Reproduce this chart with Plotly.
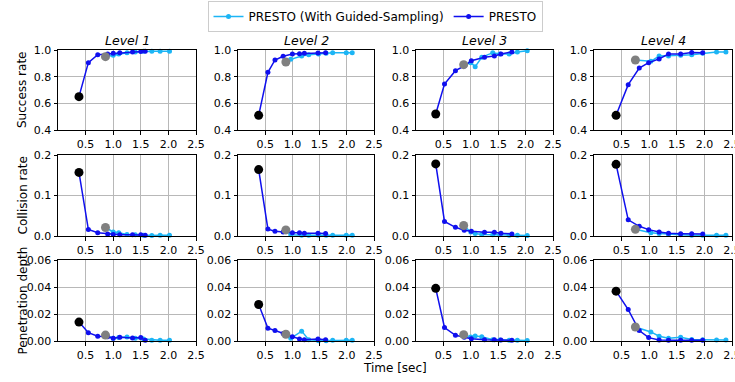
import plotly.graph_objects as go

levels = ["Level 1", "Level 2", "Level 3", "Level 4"]
metrics = ["Success rate", "Collision rate", "Penetration depth"]
x_ticks = [0.5, 1.0, 1.5, 2.0, 2.5]
y_ticks = [[0.4, 0.6, 0.8, 1.0], [0.0, 0.1, 0.2], [0.00, 0.02, 0.04, 0.06]]
y_ranges = [[0.4, 1.0], [0.0, 0.2], [0.0, 0.06]]

# PRESTO (blue)
t_presto_L1 = [0.38, 0.55, 0.72, 0.90, 1.00, 1.12, 1.35, 1.50, 1.58]
succ_presto_L1 = [0.65, 0.905, 0.965, 0.97, 0.975, 0.98, 0.985, 0.988, 0.99]
coll_presto_L1 = [0.157, 0.016, 0.008, 0.005, 0.004, 0.003, 0.003, 0.003, 0.002]
pen_presto_L1 = [0.014, 0.0062, 0.0036, 0.0032, 0.002, 0.0027, 0.0022, 0.0025, 0.0005]

t_presto_L2 = [0.38, 0.55, 0.68, 0.83, 1.00, 1.13, 1.22, 1.47, 1.61]
succ_presto_L2 = [0.51, 0.833, 0.925, 0.953, 0.97, 0.972, 0.975, 0.978, 0.98]
coll_presto_L2 = [0.164, 0.017, 0.012, 0.010, 0.008, 0.008, 0.007, 0.007, 0.006]
pen_presto_L2 = [0.027, 0.0095, 0.0078, 0.0055, 0.0032, 0.0015, 0.001, 0.0015, 0.001]

t_presto_L3 = [0.36, 0.52, 0.72, 0.88, 1.01, 1.25, 1.43, 1.55, 1.75]
succ_presto_L3 = [0.52, 0.745, 0.845, 0.88, 0.92, 0.945, 0.955, 0.97, 0.985]
coll_presto_L3 = [0.178, 0.036, 0.0215, 0.014, 0.0115, 0.009, 0.009, 0.0066, 0.005]
pen_presto_L3 = [0.039, 0.010, 0.0042, 0.0027, 0.0017, 0.001, 0.001, 0.0008, 0.0006]

t_presto_L4 = [0.40, 0.62, 0.82, 0.99, 1.18, 1.35, 1.57, 1.77, 1.97]
succ_presto_L4 = [0.51, 0.74, 0.865, 0.905, 0.933, 0.97, 0.97, 0.982, 0.98]
coll_presto_L4 = [0.177, 0.040, 0.024, 0.0157, 0.010, 0.0066, 0.0058, 0.0055, 0.005]
pen_presto_L4 = [0.0369, 0.0233, 0.0077, 0.0025, 0.0008, 0.0005, 0.0005, 0.0005, 0.0005]

# PRESTO (With Guided-Sampling) (cyan)
t_guided_L1 = [0.86, 1.00, 1.10, 1.25, 1.40, 1.55, 1.70, 1.85, 2.02]
succ_guided_L1 = [0.95, 0.96, 0.97, 0.98, 0.985, 0.99, 0.99, 0.99, 0.99]
coll_guided_L1 = [0.021, 0.010, 0.008, 0.004, 0.003, 0.002, 0.001, 0.002, 0.002]
pen_guided_L1 = [0.0044, 0.002, 0.0025, 0.003, 0.002, 0.0015, 0.0005, 0.0005, 0.0005]

t_guided_L2 = [0.88, 0.97, 1.17, 1.30, 1.48, 1.62, 1.74, 1.99, 2.10]
succ_guided_L2 = [0.91, 0.93, 0.955, 0.965, 0.97, 0.975, 0.98, 0.98, 0.98]
coll_guided_L2 = [0.015, 0.003, 0.002, 0.002, 0.002, 0.002, 0.002, 0.002, 0.002]
pen_guided_L2 = [0.005, 0.002, 0.0073, 0.001, 0.0002, 0.0002, 0.0005, 0.0005, 0.0005]

t_guided_L3 = [0.87, 1.00, 1.08, 1.20, 1.40, 1.53, 1.70, 1.85, 2.03]
succ_guided_L3 = [0.89, 0.905, 0.875, 0.945, 0.98, 0.97, 0.97, 0.985, 0.995]
coll_guided_L3 = [0.026, 0.010, 0.006, 0.004, 0.003, 0.003, 0.002, 0.002, 0.001]
pen_guided_L3 = [0.0047, 0.003, 0.0037, 0.0032, 0.001, 0.0008, 0.0005, 0.0005, 0.0003]

t_guided_L4 = [0.75, 1.03, 1.18, 1.35, 1.57, 1.77, 1.97, 2.22, 2.39]
succ_guided_L4 = [0.925, 0.915, 0.955, 0.955, 0.96, 0.965, 0.975, 0.985, 0.985]
coll_guided_L4 = [0.0165, 0.008, 0.006, 0.004, 0.003, 0.002, 0.002, 0.002, 0.002]
pen_guided_L4 = [0.0104, 0.0067, 0.0035, 0.002, 0.0027, 0.0012, 0.001, 0.0008, 0.0008]

presto = [
    (t_presto_L1, [succ_presto_L1, coll_presto_L1, pen_presto_L1]),
    (t_presto_L2, [succ_presto_L2, coll_presto_L2, pen_presto_L2]),
    (t_presto_L3, [succ_presto_L3, coll_presto_L3, pen_presto_L3]),
    (t_presto_L4, [succ_presto_L4, coll_presto_L4, pen_presto_L4]),
]
guided = [
    (t_guided_L1, [succ_guided_L1, coll_guided_L1, pen_guided_L1]),
    (t_guided_L2, [succ_guided_L2, coll_guided_L2, pen_guided_L2]),
    (t_guided_L3, [succ_guided_L3, coll_guided_L3, pen_guided_L3]),
    (t_guided_L4, [succ_guided_L4, coll_guided_L4, pen_guided_L4]),
]

W, H = 735, 382
col_px = [(58, 196), (238, 374), (416, 553), (594, 732)]
row_px = [(50, 130), (155, 236), (260, 341)]

CYAN = "#1cb5f5"
BLUE = "#0f0fee"
FONT = "DejaVu Sans"

fig = go.Figure()
layout = {}
for r in range(3):
    for c in range(4):
        k = r * 4 + c + 1
        xa = "xaxis" if k == 1 else f"xaxis{k}"
        ya = "yaxis" if k == 1 else f"yaxis{k}"
        xref = "x" if k == 1 else f"x{k}"
        yref = "y" if k == 1 else f"y{k}"
        common = dict(showline=True, mirror=True, linecolor="black", linewidth=1,
                      showgrid=True, gridcolor="#b8b8b8", gridwidth=1,
                      ticks="outside", ticklen=3.5, tickcolor="black", tickwidth=1,
                      zeroline=False, automargin=False, ticklabeloverflow="allow",
                      tickfont=dict(family=FONT, size=11, color="black"))
        layout[xa] = dict(common, domain=[col_px[c][0] / W, col_px[c][1] / W], range=[0, 2.5],
                          tickvals=x_ticks, ticktext=[f"{v:.1f}" for v in x_ticks], anchor=yref)
        fmt = "{:.1f}" if r < 2 else "{:.2f}"
        layout[ya] = dict(common, domain=[1 - row_px[r][1] / H, 1 - row_px[r][0] / H], range=y_ranges[r],
                          tickvals=y_ticks[r], ticktext=[fmt.format(v) for v in y_ticks[r]], anchor=xref)

        tg, yg = guided[c][0], guided[c][1][r]
        tp, yp = presto[c][0], presto[c][1][r]
        show = (k == 1)
        fig.add_trace(go.Scatter(x=tg, y=yg, mode="lines+markers", name="PRESTO (With Guided-Sampling)",
                                 line=dict(color=CYAN, width=1.5), marker=dict(color=CYAN, size=5),
                                 showlegend=show, legendrank=1, xaxis=xref, yaxis=yref, cliponaxis=False))
        fig.add_trace(go.Scatter(x=tp, y=yp, mode="lines+markers", name="PRESTO",
                                 line=dict(color=BLUE, width=1.5), marker=dict(color=BLUE, size=5),
                                 showlegend=show, legendrank=2, xaxis=xref, yaxis=yref, cliponaxis=False))
        fig.add_trace(go.Scatter(x=[tg[0]], y=[yg[0]], mode="markers", marker=dict(color="#808080", size=9),
                                 showlegend=False, xaxis=xref, yaxis=yref, cliponaxis=False))
        fig.add_trace(go.Scatter(x=[tp[0]], y=[yp[0]], mode="markers", marker=dict(color="black", size=9),
                                 showlegend=False, xaxis=xref, yaxis=yref, cliponaxis=False))

annotations = []
for c, name in enumerate(levels):
    cx = (col_px[c][0] + col_px[c][1]) / 2 / W
    annotations.append(dict(text=name, x=cx, y=1 - 40 / H, xref="paper", yref="paper",
                            showarrow=False, xanchor="center", yanchor="middle",
                            font=dict(family=FONT, size=12.5, color="black", style="italic")))
for r, name in enumerate(metrics):
    cy = 1 - (row_px[r][0] + row_px[r][1]) / 2 / H
    annotations.append(dict(text=name, x=22 / W, y=cy, xref="paper", yref="paper", textangle=-90,
                            showarrow=False, xanchor="center", yanchor="middle",
                            font=dict(family=FONT, size=12, color="black")))
annotations.append(dict(text="Time [sec]", x=395 / W, y=1 - 368 / H, xref="paper", yref="paper",
                        showarrow=False, xanchor="center", yanchor="middle",
                        font=dict(family=FONT, size=12, color="black")))

fig.update_layout(
    width=W, height=H, margin=dict(l=0, r=0, t=0, b=0, autoexpand=False),
    paper_bgcolor="white", plot_bgcolor="white",
    font=dict(family=FONT, size=11, color="black"),
    showlegend=True,
    legend=dict(orientation="h", x=375 / W, y=1 - 1 / H, xanchor="center", yanchor="top",
                bordercolor="#cccccc", borderwidth=1, bgcolor="white",
                font=dict(family=FONT, size=12, color="black"), itemwidth=30,
                traceorder="normal"),
    annotations=annotations,
    **layout,
)

fig.write_html("out.html", config={"displayModeBar": False},
               post_script="document.body.style.margin='0';document.body.style.overflow='hidden';")
